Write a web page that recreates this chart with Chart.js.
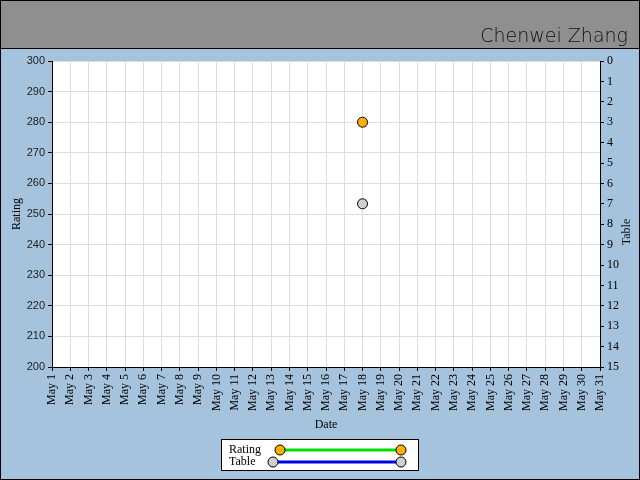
<!DOCTYPE html>
<html>
<head>
<meta charset="utf-8">
<script src="https://cdn.jsdelivr.net/npm/chart.js@4/dist/chart.umd.min.js"></script>
<style>
  html, body { margin: 0; padding: 0; background: #a5c3dd; }
  #wrap { width: 640px; height: 480px; position: relative; }
</style>
</head>
<body>
<div id="wrap"><canvas id="ratingChart"></canvas></div>
<script>
// data
const days = [];
for (let d = 1; d <= 31; d++) days.push("May " + d);
const ratingValues = [null, null, null, null, null, null, null, null, null, null,
  null, null, null, null, null, null, null, 280, null, null,
  null, null, null, null, null, null, null, null, null, null, null];
const tableValues = [null, null, null, null, null, null, null, null, null, null,
  null, null, null, null, null, null, null, 7, null, null,
  null, null, null, null, null, null, null, null, null, null, null];
const seriesNames = ["Rating", "Table"];
const titleText = "Chenwei Zhang";

const serif = "'Liberation Serif', 'DejaVu Serif', serif";

// background, header, frame, white plot area
const framePlugin = {
  id: "frame",
  beforeDraw(chart) {
    const { ctx, width, height, chartArea } = chart;
    ctx.save();
    ctx.fillStyle = "#a5c3dd";
    ctx.fillRect(0, 0, width, height);
    ctx.fillStyle = "#8f8f8f";
    ctx.fillRect(0, 0, width, 48);
    ctx.fillStyle = "#ffffff";
    ctx.fillRect(chartArea.left, chartArea.top, chartArea.right - chartArea.left, chartArea.bottom - chartArea.top);
    ctx.restore();
  },
  afterDraw(chart) {
    const { ctx, width, height } = chart;
    ctx.save();
    ctx.strokeStyle = "#000";
    ctx.lineWidth = 1;
    ctx.strokeRect(0.5, 0.5, width - 1, height - 1);
    ctx.beginPath();
    ctx.moveTo(0, 48.5);
    ctx.lineTo(width, 48.5);
    ctx.stroke();

    // handwritten-ish title
    ctx.fillStyle = "#111";
    ctx.font = "200 19px 'DejaVu Sans', sans-serif";
    ctx.textAlign = "right";
    ctx.textBaseline = "alphabetic";
    ctx.fillText(titleText, 628, 42);

    // right axis title, reads bottom to top
    ctx.save();
    ctx.translate(627, 232);
    ctx.rotate(-Math.PI / 2);
    ctx.font = "12px " + serif;
    ctx.textAlign = "center";
    ctx.textBaseline = "middle";
    ctx.fillText(seriesNames[1], 0, 0);
    ctx.restore();

    // legend box
    const bx = 221.5, by = 439.5, bw = 197, bh = 31;
    ctx.fillStyle = "#fff";
    ctx.fillRect(bx, by, bw, bh);
    ctx.strokeRect(bx, by, bw, bh);
    const rows = [
      { y: 450, x1: 280, x2: 401 },
      { y: 462, x1: 273, x2: 401 }
    ];
    chart.data.datasets.forEach((ds, i) => {
      const r = rows[i];
      ctx.fillStyle = "#000";
      ctx.font = "12px " + serif;
      ctx.textAlign = "left";
      ctx.textBaseline = "middle";
      ctx.fillText(ds.label, 229, r.y);
      ctx.strokeStyle = ds.borderColor;
      ctx.lineWidth = 3;
      ctx.beginPath();
      ctx.moveTo(r.x1, r.y);
      ctx.lineTo(r.x2, r.y);
      ctx.stroke();
      [r.x1, r.x2].forEach(cx => {
        ctx.beginPath();
        ctx.arc(cx, r.y, 5, 0, Math.PI * 2);
        ctx.fillStyle = ds.pointBackgroundColor;
        ctx.fill();
        ctx.lineWidth = 1;
        ctx.strokeStyle = "#000";
        ctx.stroke();
      });
    });
    ctx.restore();
  }
};

new Chart(document.getElementById("ratingChart"), {
  type: "line",
  data: {
    labels: days,
    datasets: [{
      label: seriesNames[0],
      data: ratingValues,
      yAxisID: "y",
      borderColor: "#00e000",
      borderWidth: 3,
      pointBackgroundColor: "#ffb000",
      pointBorderColor: "#000",
      pointBorderWidth: 1,
      pointRadius: 5
    }, {
      label: seriesNames[1],
      data: tableValues,
      yAxisID: "y2",
      borderColor: "#0000e0",
      borderWidth: 3,
      pointBackgroundColor: "#d0d0d0",
      pointBorderColor: "#000",
      pointBorderWidth: 1,
      pointRadius: 5
    }]
  },
  options: {
    responsive: true,
    maintainAspectRatio: false,
    animation: false,
    layout: { padding: { top: 61, left: 0, right: 0, bottom: 43 } },
    plugins: {
      legend: { display: false },
      tooltip: { enabled: false }
    },
    scales: {
      x: {
        offset: false,
        afterFit: s => { s.height = 70; },
        border: { color: "#000", width: 1 },
        grid: { color: "#dddddd", tickColor: "#000", tickLength: 4 },
        ticks: {
          autoSkip: false, minRotation: 90, maxRotation: 90,
          color: "#000", padding: 3,
          font: { family: serif, size: 12 }
        },
        title: {
          display: true, text: "Date", color: "#000",
          padding: { top: 0, bottom: 5 },
          font: { family: serif, size: 12 }
        }
      },
      y: {
        position: "left",
        min: 200, max: 300,
        afterFit: s => { s.width = 52; },
        border: { color: "#000", width: 1 },
        grid: { color: "#dddddd", tickColor: "#000", tickLength: 4 },
        ticks: {
          stepSize: 10, color: "#222", padding: 3,
          font: { family: "'Liberation Sans', Arial, sans-serif", size: 11 }
        },
        title: {
          display: true, text: seriesNames[0], color: "#000",
          padding: { top: 10, bottom: 0 },
          font: { family: serif, size: 12 }
        }
      },
      y2: {
        position: "right",
        min: 0, max: 15, reverse: true,
        afterFit: s => { s.width = 40; },
        border: { color: "#000", width: 1 },
        grid: { drawOnChartArea: false, tickColor: "#000", tickLength: 4 },
        ticks: {
          stepSize: 1, color: "#000", padding: 3,
          font: { family: serif, size: 12 }
        },
        title: { display: false }
      }
    }
  },
  plugins: [framePlugin]
});
</script>
</body>
</html>
